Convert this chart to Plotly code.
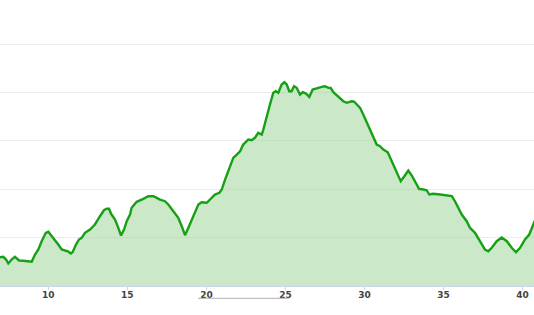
import plotly.graph_objects as go

distance_km = [6.7, 6.945, 7.15, 7.33, 7.47, 7.68, 7.89, 8.00, 8.15, 8.42, 8.74, 8.95, 9.16, 9.37, 9.58, 9.84,
               10.0, 10.22, 10.42, 10.63, 10.85, 11.06, 11.27, 11.42, 11.54, 11.75, 11.94, 12.11, 12.32, 12.64,
               12.95, 13.27, 13.52, 13.69, 13.84, 13.97, 14.22, 14.43, 14.60, 14.79, 14.96, 15.17, 15.27, 15.59,
               15.80, 16.01, 16.32, 16.64, 16.86, 17.06, 17.38, 17.59, 17.91, 18.22, 18.44, 18.65, 18.86, 19.17,
               19.49, 19.70, 20.02, 20.23, 20.54, 20.82, 20.97, 21.18, 21.39, 21.49, 21.70, 21.92, 22.13, 22.33,
               22.65, 22.86, 23.07, 23.28, 23.50, 23.60, 23.81, 24.02, 24.23, 24.38, 24.55, 24.76, 24.93, 25.08,
               25.24, 25.39, 25.54, 25.71, 25.92, 26.09, 26.30, 26.51, 26.72, 26.93, 27.08, 27.29, 27.50, 27.71,
               27.86, 28.03, 28.34, 28.66, 28.87, 29.19, 29.34, 29.51, 29.72, 29.92, 30.24, 30.56, 30.77, 30.98,
               31.19, 31.47, 31.72, 32.04, 32.29, 32.52, 32.77, 32.99, 33.19, 33.45, 33.72, 33.93, 34.10, 34.35,
               34.78, 35.20, 35.52, 35.72, 35.93, 36.15, 36.46, 36.67, 36.99, 37.31, 37.62, 37.83, 38.05, 38.36,
               38.68, 39.00, 39.31, 39.58, 39.84, 40.15, 40.42, 40.72, 40.9]

elevation_m = [62, 59.5, 60.3, 54.7, 46.5, 54.7, 60.3, 56.8, 52.7, 52.1, 50.0, 50.0, 65.1, 75.4, 92.6, 109.9,
               112.0, 102.9, 96.1, 85.7, 75.4, 74.0, 71.3, 67.1, 69.8, 85.7, 96.1, 99.6, 109.9, 116.7,
               127.1, 144.2, 156.6, 159.5, 159.5, 149.2, 137.4, 120.2, 104.3, 116.7, 133.9, 147.7, 161.6, 174.0,
               176.6, 180.2, 185.5, 185.5, 182.2, 178.7, 175.2, 168.4, 154.5, 140.9, 123.5, 105.0, 120.2, 144.2,
               168.4, 173.1, 171.9, 178.7, 189.0, 192.6, 199.4, 220.0, 237.2, 244.2, 264.9, 271.7, 278.5, 292.3,
               302.7, 301.2, 306.2, 316.5, 313.0, 323.3, 350.8, 375.0, 399.2, 402.5, 399.2, 416.3, 421.1, 416.3,
               402.5, 402.5, 412.8, 409.5, 395.6, 400.4, 397.7, 390.9, 406.0, 407.4, 409.5, 411.5, 412.8, 409.5,
               409.5, 400.4, 392.1, 381.8, 378.5, 381.8, 381.2, 375.0, 368.2, 354.3, 330.1, 309.5, 292.3, 288.8,
               282.0, 276.4, 257.8, 237.2, 216.5, 226.8, 238.6, 228.3, 216.5, 200.8, 199.4, 197.9, 189.0, 190.5,
               189.0, 187.4, 185.9, 175.2, 160.1, 147.7, 133.9, 120.2, 109.9, 92.6, 75.4, 71.9, 78.9, 92.6,
               100.2, 92.6, 78.9, 69.8, 78.9, 96.1, 106.4, 130.6, 145]

x_ticks = [10, 15, 20, 25, 30, 35, 40]
y_grid = [0, 100, 200, 300, 400, 500]

fig = go.Figure()
fig.add_trace(go.Scatter(
    x=distance_km, y=elevation_m, mode="lines", fill="tozeroy",
    line=dict(color="#16a016", width=2.4, shape="linear"),
    fillcolor="rgba(160,215,155,0.55)",
    hoverinfo="skip", showlegend=False,
))

fig.add_shape(type="line", xref="x", yref="paper", x0=19.47, x1=25.22, y0=-0.043, y1=-0.043,
              line=dict(color="#b0b0b0", width=1))

fig.update_layout(
    width=534, height=315,
    margin=dict(l=0, r=0, t=0, b=29),
    paper_bgcolor="white", plot_bgcolor="white",
    xaxis=dict(range=[6.945, 40.72], tickvals=x_ticks, ticktext=[str(v) for v in x_ticks],
               showgrid=False, zeroline=False, showline=True, linecolor="#c9d6e6", linewidth=1,
               ticks="outside", ticklen=3, tickcolor="#c9d6e6", ticklabelstandoff=-3,
               tickfont=dict(family="DejaVu Sans", size=9, color="#444444", weight="bold")),
    yaxis=dict(range=[0, 591], tickvals=y_grid, showticklabels=False, showgrid=True,
               gridcolor="#ececec", gridwidth=1, zeroline=False, showline=False),
)

fig.write_html("out.html")
